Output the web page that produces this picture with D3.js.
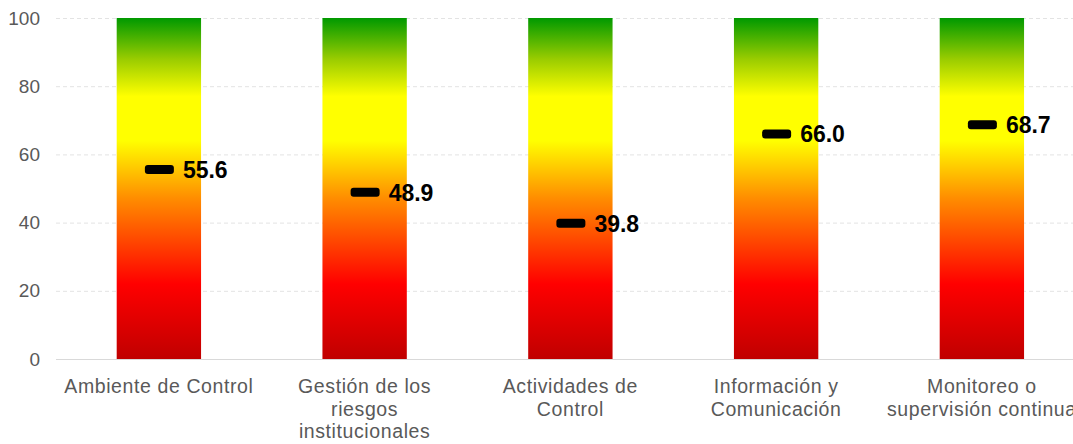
<!DOCTYPE html>
<html>
<head>
<meta charset="utf-8">
<script src="https://cdn.jsdelivr.net/npm/d3@7/dist/d3.min.js"></script>
<style>
  html, body { margin: 0; padding: 0; background: #fff; }
  svg { display: block; }
</style>
</head>
<body>
<svg id="chart" width="1073" height="444"></svg>
<script>
const categories = [
  ["Ambiente de Control"],
  ["Gestión de los", "riesgos", "institucionales"],
  ["Actividades de", "Control"],
  ["Información y", "Comunicación"],
  ["Monitoreo o", "supervisión continua"]
];
const scores = [55.6, 48.9, 39.8, 66.0, 68.7];
const barMax = [100, 100, 100, 100, 100];
const yTicks = [0, 20, 40, 60, 80, 100];
const gradientStops = [
  { offset: 0.00, color: "#c00000" },
  { offset: 0.22, color: "#ff0000" },
  { offset: 0.47, color: "#ff8c00" },
  { offset: 0.64, color: "#ffff00" },
  { offset: 0.77, color: "#ffff00" },
  { offset: 0.88, color: "#99cc00" },
  { offset: 1.00, color: "#009900" }
];

const svg = d3.select("#chart");
const mLeft = 56, mTop = 18, mBottom = 359;
const step = 205.75;
const mRight = mLeft + step * categories.length;

const x = d3.scaleBand()
  .domain(d3.range(categories.length))
  .range([mLeft, mRight])
  .paddingInner(0.59)
  .paddingOuter(0.295);
const y = d3.scaleLinear().domain([0, 100]).range([mBottom, mTop]);

const defs = svg.append("defs");
const grad = defs.append("linearGradient")
  .attr("id", "rag")
  .attr("gradientUnits", "userSpaceOnUse")
  .attr("x1", 0).attr("x2", 0)
  .attr("y1", y(0)).attr("y2", y(100));
grad.selectAll("stop").data(gradientStops).join("stop")
  .attr("offset", d => d.offset)
  .attr("stop-color", d => d.color);

// gridlines
svg.append("g").selectAll("line")
  .data(yTicks.filter(t => t > 0))
  .join("line")
  .attr("x1", mLeft).attr("x2", 1073)
  .attr("y1", d => y(d) + 0.5).attr("y2", d => y(d) + 0.5)
  .attr("stroke", "#e3e3e3")
  .attr("stroke-width", 1)
  .attr("stroke-dasharray", "4,3");

// y axis labels
const yAxis = d3.axisLeft(y).tickValues(yTicks).tickSize(0).tickPadding(16);
const yg = svg.append("g").attr("transform", `translate(${mLeft},0)`).call(yAxis);
yg.select(".domain").remove();
yg.selectAll("text")
  .attr("fill", "#595959")
  .style("font-family", "Liberation Sans, Arial, sans-serif")
  .style("font-size", "19px");

// bars
svg.append("g").selectAll("rect")
  .data(barMax)
  .join("rect")
  .attr("x", (d, i) => x(i))
  .attr("width", x.bandwidth())
  .attr("y", d => y(d))
  .attr("height", d => y(0) - y(d))
  .attr("fill", "url(#rag)");

// baseline
svg.append("line")
  .attr("x1", mLeft).attr("x2", 1073)
  .attr("y1", y(0) + 0.5).attr("y2", y(0) + 0.5)
  .attr("stroke", "#d9d9d9").attr("stroke-width", 1);

// x labels
const xg = svg.append("g");
categories.forEach((lines, i) => {
  const t = xg.append("text")
    .attr("x", x(i) + x.bandwidth() / 2)
    .attr("y", 393)
    .attr("text-anchor", "middle")
    .attr("fill", "#595959")
    .style("font-family", "Liberation Sans, Arial, sans-serif")
    .style("font-size", "19.5px")
    .style("letter-spacing", "0.6px");
  lines.forEach((ln, j) => {
    t.append("tspan")
      .attr("x", x(i) + x.bandwidth() / 2)
      .attr("dy", j === 0 ? 0 : 22.5)
      .text(ln);
  });
});

// markers
const mw = 29, mh = 9;
svg.append("g").selectAll("rect")
  .data(scores)
  .join("rect")
  .attr("x", (d, i) => x(i) + x.bandwidth() / 2 - mw / 2 + 0.5)
  .attr("y", d => y(d) - mh / 2)
  .attr("width", mw).attr("height", mh)
  .attr("rx", 3).attr("ry", 3)
  .attr("fill", "#000");

// value labels
svg.append("g").selectAll("text")
  .data(scores)
  .join("text")
  .attr("x", (d, i) => x(i) + x.bandwidth() / 2 + 24)
  .attr("y", d => y(d))
  .attr("dy", "0.36em")
  .attr("fill", "#000")
  .style("font-family", "Liberation Sans, Arial, sans-serif")
  .style("font-weight", "bold")
  .style("font-size", "23px")
  .text(d => d.toFixed(1));
</script>
</body>
</html>
